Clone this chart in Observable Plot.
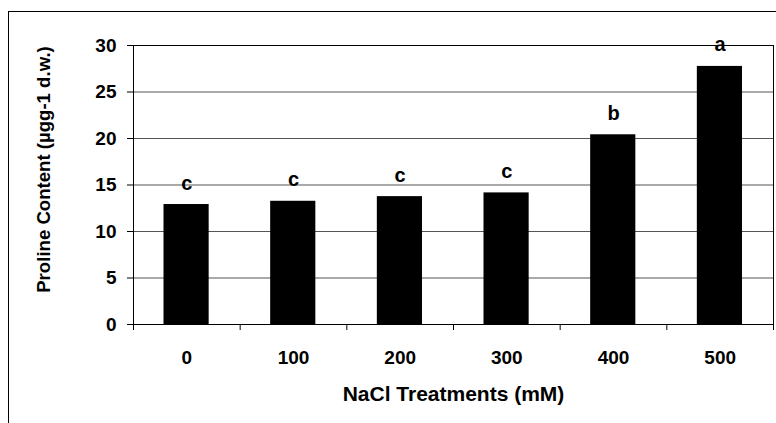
<!DOCTYPE html>
<html>
<head>
<meta charset="utf-8">
<script src="https://cdn.jsdelivr.net/npm/d3@7"></script>
<script src="https://cdn.jsdelivr.net/npm/@observablehq/plot@0.6"></script>
<style>
  html, body { margin: 0; padding: 0; background: #fff; }
  #wrap { position: relative; width: 776px; height: 423px; overflow: hidden; }
  #outer { position: absolute; left: 8px; top: 11px; width: 900px; height: 600px; border: 1.5px solid #000; box-sizing: border-box; pointer-events: none; }
</style>
</head>
<body>
<div id="wrap"><div id="outer"></div></div>
<script>
const categories = ["0", "100", "200", "300", "400", "500"];
const proline = [12.9, 13.25, 13.75, 14.15, 20.4, 27.75];
const letters = ["c", "c", "c", "c", "b", "a"];
const yTicks = [0, 5, 10, 15, 20, 25, 30];
const xTitle = "NaCl Treatments (mM)";
const yTitle = "Proline Content (\u00b5gg-1 d.w.)";

const data = categories.map((c, i) => ({i, c, v: proline[i], l: letters[i]}));

const chart = Plot.plot({
  width: 776,
  height: 423,
  marginLeft: 133,
  marginRight: 3,
  marginTop: 45,
  marginBottom: 99,
  style: {fontFamily: "'Liberation Sans', Arial, sans-serif", fontWeight: "bold", fontSize: "19px", color: "#000", background: "transparent"},
  x: {type: "linear", domain: [0, categories.length]},
  y: {domain: [0, 30]},
  marks: [
    Plot.ruleY(yTicks.filter(t => t > 0 && t < 30), {y: d => d, stroke: "#555", strokeWidth: 1}),
    Plot.rectY(data, {x1: d => d.i, x2: d => d.i + 1, y: "v", fill: "#000", insetLeft: 30.5, insetRight: 31}),
    Plot.frame({stroke: "#000"}),
    Plot.axisY({ticks: yTicks, tickSize: 6, tickPadding: 11, label: null, stroke: "#000", fill: "#000"}),
    Plot.axisX({ticks: d3.range(categories.length + 1), tickSize: 6, tickFormat: () => "", label: null, stroke: "#000"}),
    Plot.axisX({ticks: categories.map((c, i) => i + 0.5), tickSize: 0, tickPadding: 26, tickFormat: t => categories[Math.floor(t)], label: null, fill: "#000"}),
    Plot.text(data, {x: d => d.i + 0.5, y: "v", text: "l", dy: -15, lineAnchor: "bottom", fontSize: 20, fill: "#000"}),
    Plot.text([xTitle], {frameAnchor: "bottom", text: d => d, dy: 76, textAnchor: "middle", lineAnchor: "bottom", fontSize: 21, fill: "#000"}),
    Plot.text([yTitle], {frameAnchor: "left", text: d => d, rotate: -90, dx: -84, dy: -15.5, textAnchor: "middle", lineAnchor: "bottom", fontSize: 18.6, fill: "#000"})
  ]
});
document.getElementById("wrap").appendChild(chart);
chart.style.position = "absolute";
chart.style.left = "0";
chart.style.top = "0";
</script>
</body>
</html>
